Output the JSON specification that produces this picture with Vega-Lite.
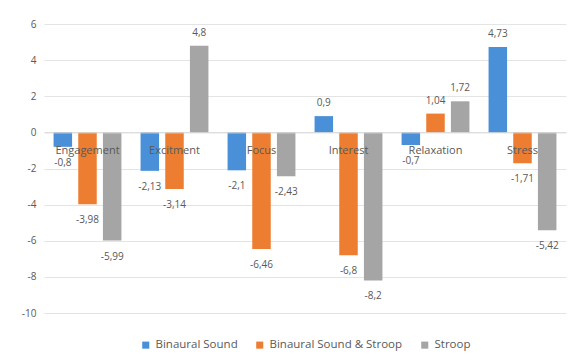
{
  "$schema": "https://vega.github.io/schema/vega-lite/v6.json",
  "width": 522,
  "height": 289,
  "padding": {"left": 21, "top": 19, "right": 14, "bottom": 5},
  "background": "white",
  "config": {
    "locale": {"number": {"decimal": ",", "thousands": ".", "grouping": [3], "currency": ["", " €"], "minus": "-"}},
    "view": {"stroke": null},
    "font": "Open Sans",
    "legend": {"layout": {"bottom": {"anchor": "middle"}}}
  },
  "data": {"values": [
    {"category": "Engagement", "series": "Binaural Sound", "value": -0.8},
    {"category": "Engagement", "series": "Binaural Sound & Stroop", "value": -3.98},
    {"category": "Engagement", "series": "Stroop", "value": -5.99},
    {"category": "Excitment", "series": "Binaural Sound", "value": -2.13},
    {"category": "Excitment", "series": "Binaural Sound & Stroop", "value": -3.14},
    {"category": "Excitment", "series": "Stroop", "value": 4.8},
    {"category": "Focus", "series": "Binaural Sound", "value": -2.1},
    {"category": "Focus", "series": "Binaural Sound & Stroop", "value": -6.46},
    {"category": "Focus", "series": "Stroop", "value": -2.43},
    {"category": "Interest", "series": "Binaural Sound", "value": 0.9},
    {"category": "Interest", "series": "Binaural Sound & Stroop", "value": -6.8},
    {"category": "Interest", "series": "Stroop", "value": -8.2},
    {"category": "Relaxation", "series": "Binaural Sound", "value": -0.7},
    {"category": "Relaxation", "series": "Binaural Sound & Stroop", "value": 1.04},
    {"category": "Relaxation", "series": "Stroop", "value": 1.72},
    {"category": "Stress", "series": "Binaural Sound", "value": 4.73},
    {"category": "Stress", "series": "Binaural Sound & Stroop", "value": -1.71},
    {"category": "Stress", "series": "Stroop", "value": -5.42}
  ]},
  "encoding": {
    "x": {
      "field": "category", "type": "nominal", "sort": null,
      "scale": {"paddingInner": 0.22, "paddingOuter": 0.11},
      "axis": {"title": null, "labelAngle": 0, "offset": -180.625, "ticks": false, "domainColor": "#d9d9d9", "labelFontSize": 11, "labelColor": "#595959", "labelPadding": 12, "zindex": 1}
    },
    "xOffset": {"field": "series", "type": "nominal", "sort": ["Binaural Sound", "Binaural Sound & Stroop", "Stroop"], "scale": {"paddingInner": 0.25}},
    "y": {
      "field": "value", "type": "quantitative",
      "scale": {"domain": [-10, 6], "nice": false},
      "axis": {"title": null, "values": [-10, -8, -6, -4, -2, 0, 2, 4, 6], "domain": false, "ticks": false, "gridColor": "#e4e4e4", "labelFontSize": 10, "labelColor": "#595959", "labelPadding": 8}
    }
  },
  "layer": [
    {
      "mark": {"type": "bar"},
      "encoding": {
        "color": {
          "field": "series", "type": "nominal",
          "sort": ["Binaural Sound", "Binaural Sound & Stroop", "Stroop"],
          "scale": {"domain": ["Binaural Sound", "Binaural Sound & Stroop", "Stroop"], "range": ["#4a90d9", "#ed7d31", "#a5a5a5"]},
          "legend": {"title": null, "orient": "bottom", "direction": "horizontal", "symbolType": "square", "symbolSize": 50, "labelFontSize": 11.5, "labelColor": "#595959", "columnPadding": 16, "offset": 26}
        }
      }
    },
    {
      "transform": [{"filter": "datum.value >= 0"}],
      "mark": {"type": "text", "baseline": "bottom", "dy": -8, "fontSize": 10, "color": "#595959"},
      "encoding": {"text": {"field": "value", "type": "quantitative", "format": ".2~f"}}
    },
    {
      "transform": [{"filter": "datum.value < 0"}],
      "mark": {"type": "text", "baseline": "top", "dy": 11, "fontSize": 10, "color": "#595959"},
      "encoding": {"text": {"field": "value", "type": "quantitative", "format": ".2~f"}}
    }
  ]
}
